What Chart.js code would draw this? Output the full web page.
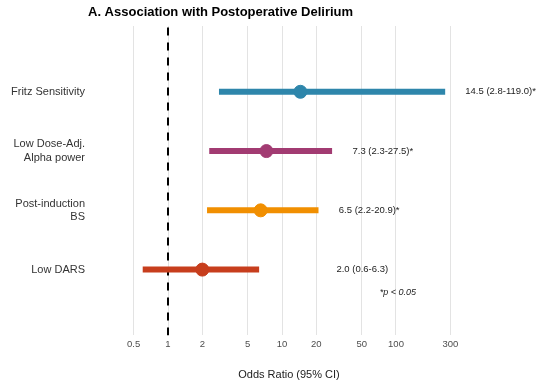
<!DOCTYPE html>
<html>
<head>
<meta charset="utf-8">
<script src="https://cdn.jsdelivr.net/npm/chart.js@4.4.1/dist/chart.umd.min.js"></script>
<style>
  html, body { margin: 0; padding: 0; background: #fff; }
  #wrap { width: 537px; height: 387px; }
</style>
</head>
<body>
<div id="wrap"><canvas id="forest"></canvas></div>
<script>
// rows from top to bottom
const labels = [["Fritz Sensitivity"], ["Low Dose-Adj.", "Alpha power"], ["Post-induction", "BS"], ["Low DARS"]];
const rowY = [4, 3, 2, 1];
const oddsRatio = [14.5, 7.3, 6.5, 2.0];
const ciLow = [2.8, 2.3, 2.2, 0.6];
const ciHigh = [270, 27.5, 20.9, 6.3];   // fritz bar is drawn out to ~270 in the figure
const orText = ["14.5 (2.8-119.0)*", "7.3 (2.3-27.5)*", "6.5 (2.2-20.9)*", "2.0 (0.6-6.3)"];
const textX = [405, 41.5, 31.5, 30];
const colors = ["#2E86AB", "#A23B72", "#F18F01", "#C73E1D"];
const xTicks = [0.5, 1, 2, 5, 10, 20, 50, 100, 300];
const noteText = "*p < 0.05";

const FONT = "'Liberation Sans', Arial, Helvetica, sans-serif";

let datasets = [];
// CI bars
for (let i = 0; i < rowY.length; i++) {
    datasets.push({
        type: "line",
        data: [{x: ciLow[i], y: rowY[i]}, {x: ciHigh[i], y: rowY[i]}],
        borderColor: colors[i],
        borderWidth: 6,
        borderCapStyle: "butt",
        pointRadius: 0,
        order: 2
    });
}
// reference line at OR = 1
datasets.push({
    type: "line",
    data: [{x: 1, y: -0.11}, {x: 1, y: 5.11}],
    borderColor: "#000",
    borderWidth: 2,
    borderDash: [8, 7],
    pointRadius: 0,
    order: 3
});
// point estimates
datasets.push({
    type: "scatter",
    data: oddsRatio.map((v, i) => ({x: v, y: rowY[i]})),
    backgroundColor: colors,
    borderColor: colors,
    pointRadius: 6.5,
    pointHoverRadius: 6.5,
    order: 1
});

// text next to the bars, the note and the title
const annotate = {
    id: "annotate",
    afterDraw(chart) {
        const c = chart.ctx;
        const xs = chart.scales.x, ys = chart.scales.y;
        c.save();
        c.fillStyle = "#222";
        c.font = "9.5px " + FONT;
        c.textAlign = "left";
        c.textBaseline = "middle";
        for (let i = 0; i < orText.length; i++) {
            c.fillText(orText[i], xs.getPixelForValue(textX[i]), ys.getPixelForValue(rowY[i]));
        }
        c.font = "italic 9px " + FONT;
        c.textAlign = "center";
        c.fillText(noteText, xs.getPixelForValue(104), ys.getPixelForValue(0.61));
        c.fillStyle = "#000";
        c.font = "bold 13px " + FONT;
        c.textAlign = "left";
        c.fillText("A. Association with Postoperative Delirium", chart.chartArea.left, 12);
        c.restore();
    }
};

new Chart(document.getElementById("forest"), {
    data: { datasets: datasets },
    options: {
        responsive: true,
        maintainAspectRatio: false,
        animation: false,
        layout: { padding: { left: 0, right: 47, top: 26, bottom: 0 } },
        plugins: {
            legend: { display: false },
            tooltip: { enabled: false }
        },
        scales: {
            x: {
                type: "logarithmic",
                min: 0.1987,
                max: 667.7,
                bounds: "data",
                afterBuildTicks: s => { s.ticks = xTicks.map(v => ({value: v})); },
                ticks: {
                    color: "#4d4d4d",
                    font: { family: FONT, size: 9.5 },
                    padding: 3,
                    autoSkip: false,
                    maxRotation: 0,
                    callback: v => String(v)
                },
                grid: { color: "#e3e3e3", lineWidth: 1, drawTicks: false },
                border: { display: false },
                title: {
                    display: true,
                    text: "Odds Ratio (95% CI)",
                    color: "#222",
                    font: { family: FONT, size: 11 },
                    padding: { top: 16, bottom: 5 }
                }
            },
            y: {
                type: "linear",
                min: -0.11,
                max: 5.11,
                bounds: "data",
                afterBuildTicks: s => { s.ticks = rowY.map(v => ({value: v})); },
                afterFit: s => { s.width = 88; },
                ticks: {
                    color: "#333",
                    font: { family: FONT, size: 11 },
                    padding: 3,
                    autoSkip: false,
                    callback: v => { const k = rowY.indexOf(v); return k >= 0 ? labels[k] : ""; }
                },
                grid: { display: false, drawTicks: false },
                border: { display: false }
            }
        }
    },
    plugins: [annotate]
});
</script>
</body>
</html>
